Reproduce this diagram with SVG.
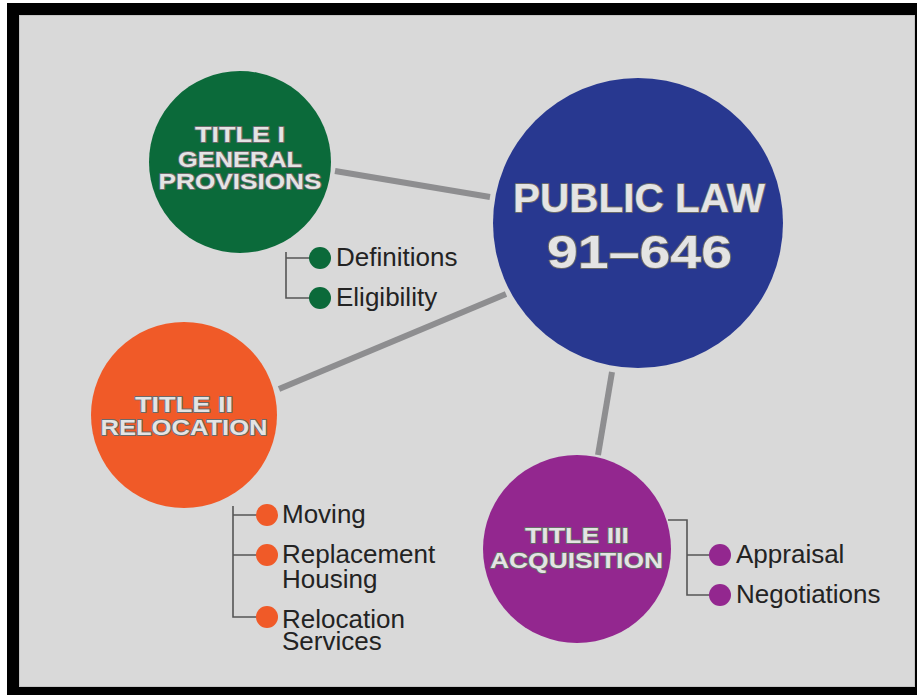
<svg xmlns="http://www.w3.org/2000/svg" width="917" height="695" viewBox="0 0 917 695">
  <style>
    .title { font-family: "Liberation Sans", Arial, sans-serif; font-weight: 900; fill: #e4e4e4; stroke: #6a6a6a; stroke-width: 1.8; stroke-linejoin: round; paint-order: stroke; text-anchor: middle; }
    .item { font-family: "Liberation Sans", Arial, sans-serif; font-size: 26px; fill: #232323; }
    .main-link { stroke: #8e8e90; stroke-width: 6; stroke-linecap: butt; fill: none; }
    .branch { stroke: #555555; stroke-width: 1.6; fill: none; }
  </style>

  <!-- page and frame -->
  <rect x="0" y="0" width="917" height="695" fill="#ffffff"/>
  <rect x="7" y="3" width="910" height="692" fill="#000000"/>
  <rect x="19.5" y="15.5" width="895" height="671" fill="#d9d9d9" stroke="#c4c4c4" stroke-width="1"/>

  <!-- connectors -->
  <g id="connectors">
    <line class="main-link" x1="335" y1="171" x2="490" y2="197"/>
    <line class="main-link" x1="279" y1="389" x2="506" y2="294"/>
    <line class="main-link" x1="612" y1="372" x2="598" y2="455"/>

    <!-- Title I branches -->
    <path class="branch" d="M286 252 V298 H318 M286 258 H318"/>
    <!-- Title II branches -->
    <path class="branch" d="M233 506 V617 H265 M233 515 H265 M233 555 H265"/>
    <!-- Title III branches -->
    <path class="branch" d="M668 520 H687 V595 H718 M687 555 H718"/>
  </g>

  <!-- central node -->
  <g id="public-law">
    <circle cx="638" cy="223" r="145" fill="#283890"/>
    <text class="title" x="639" y="212" font-size="40" textLength="252" lengthAdjust="spacingAndGlyphs">PUBLIC LAW</text>
    <text class="title" x="639.5" y="268" font-size="46" textLength="185" lengthAdjust="spacingAndGlyphs">91–646</text>
  </g>

  <!-- Title I -->
  <g id="title-1">
    <circle cx="240" cy="162" r="91" fill="#0b6a3a"/>
    <text class="title" x="240" y="142" font-size="22" textLength="90" lengthAdjust="spacingAndGlyphs">TITLE I</text>
    <text class="title" x="240" y="167" font-size="22" textLength="124" lengthAdjust="spacingAndGlyphs">GENERAL</text>
    <text class="title" x="240" y="189" font-size="22" textLength="163" lengthAdjust="spacingAndGlyphs">PROVISIONS</text>
  </g>
  <g id="title-1-definitions">
    <circle cx="320" cy="258" r="11" fill="#0b6a3a"/>
    <text class="item" x="336" y="266">Definitions</text>
  </g>
  <g id="title-1-eligibility">
    <circle cx="320" cy="298" r="11" fill="#0b6a3a"/>
    <text class="item" x="336" y="306">Eligibility</text>
  </g>

  <!-- Title II -->
  <g id="title-2">
    <circle cx="184" cy="415" r="93" fill="#f05a28"/>
    <text class="title" x="184" y="412" font-size="22" textLength="98" lengthAdjust="spacingAndGlyphs">TITLE II</text>
    <text class="title" x="184" y="435" font-size="22" textLength="167" lengthAdjust="spacingAndGlyphs">RELOCATION</text>
  </g>
  <g id="title-2-moving">
    <circle cx="267" cy="515" r="11" fill="#f05a28"/>
    <text class="item" x="282" y="523">Moving</text>
  </g>
  <g id="title-2-housing">
    <circle cx="267" cy="555" r="11" fill="#f05a28"/>
    <text class="item" x="282" y="563">Replacement</text>
    <text class="item" x="282" y="588">Housing</text>
  </g>
  <g id="title-2-services">
    <circle cx="267" cy="617" r="11" fill="#f05a28"/>
    <text class="item" x="282" y="628">Relocation</text>
    <text class="item" x="282" y="650">Services</text>
  </g>

  <!-- Title III -->
  <g id="title-3">
    <circle cx="577" cy="549" r="94" fill="#93278f"/>
    <text class="title" x="577" y="543" font-size="22" textLength="104" lengthAdjust="spacingAndGlyphs">TITLE III</text>
    <text class="title" x="576.5" y="568" font-size="22" textLength="173" lengthAdjust="spacingAndGlyphs">ACQUISITION</text>
  </g>
  <g id="title-3-appraisal">
    <circle cx="720" cy="555" r="11" fill="#93278f"/>
    <text class="item" x="736" y="563">Appraisal</text>
  </g>
  <g id="title-3-negotiations">
    <circle cx="720" cy="595" r="11" fill="#93278f"/>
    <text class="item" x="736" y="603">Negotiations</text>
  </g>
</svg>
